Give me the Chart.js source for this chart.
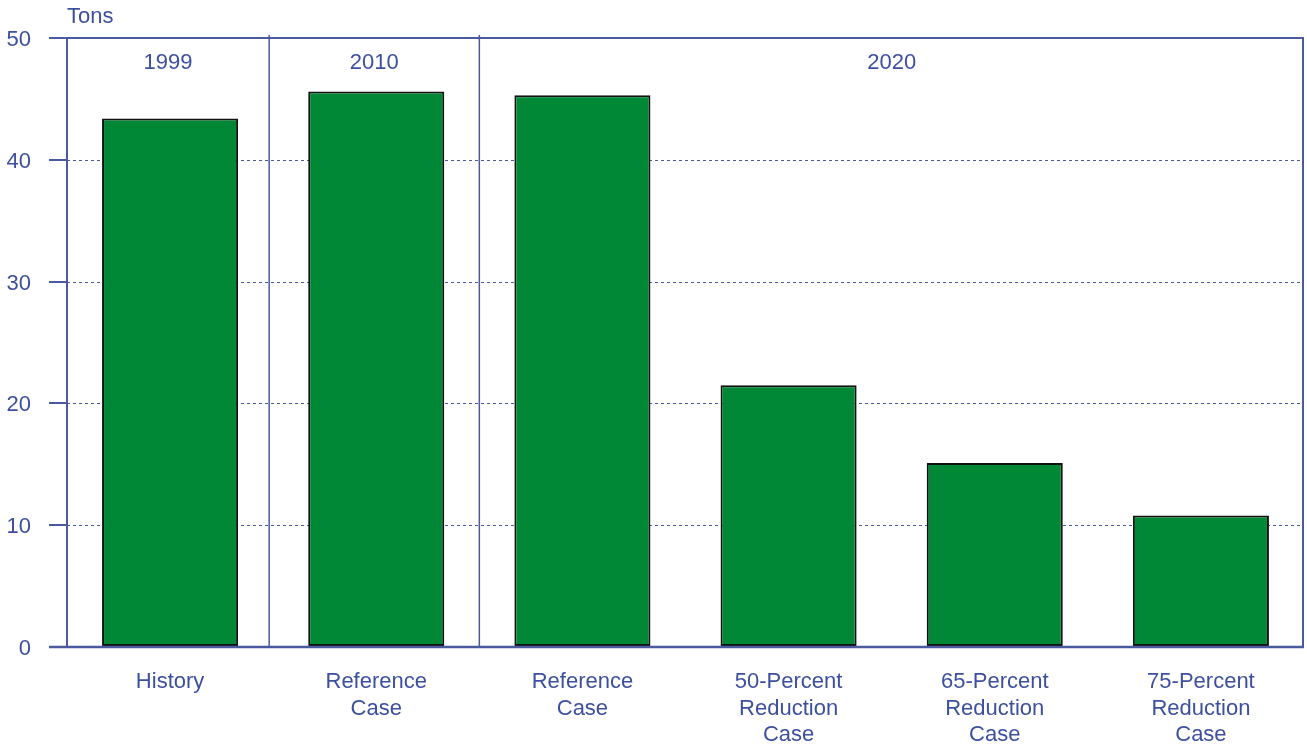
<!DOCTYPE html>
<html>
<head>
<meta charset="utf-8">
<script src="https://cdn.jsdelivr.net/npm/chart.js@4"></script>
<style>
html,body{margin:0;padding:0;background:#fff;}
#wrap{width:1307px;height:746px;position:relative;}
</style>
</head>
<body>
<div id="wrap"><canvas id="c" width="1307" height="746"></canvas></div>
<script>
const categories = [["History"],["Reference","Case"],["Reference","Case"],["50-Percent","Reduction","Case"],["65-Percent","Reduction","Case"],["75-Percent","Reduction","Case"]];
const values = [43.4, 45.6, 45.3, 21.5, 15.1, 10.8];
const yearGroups = [{label:"1999", from:0, to:0},{label:"2010", from:1, to:1},{label:"2020", from:2, to:5}];
const yTicks = [0,10,20,30,40,50];
const unitLabel = "Tons";

const TXT = '#3d4f9f';
const LINE = '#4a5a9f';
const FONT = "'Liberation Sans', Arial, sans-serif";
const SEP_SHIFT = [0, -4, 0];

const overlay = {
  id:'overlay',
  beforeDatasetsDraw(chart){
    const {ctx, chartArea:a, scales:{x,y}} = chart;
    ctx.save();
    ctx.strokeStyle = LINE; ctx.lineWidth = 1; ctx.setLineDash([3,3]);
    yTicks.forEach(v=>{
      if(v===0||v===50) return;
      const py = Math.round(y.getPixelForValue(v))+0.5;
      ctx.beginPath(); ctx.moveTo(a.left, py); ctx.lineTo(a.right, py); ctx.stroke();
    });
    ctx.restore();
  },
  afterDatasetsDraw(chart){
    const {ctx, chartArea:a, scales:{x,y}} = chart;
    ctx.save();
    ctx.strokeStyle = LINE; ctx.setLineDash([]);
    ctx.lineWidth = 2;
    const top = y.getPixelForValue(50);
    ctx.beginPath(); ctx.moveTo(a.left, top); ctx.lineTo(a.right, top); ctx.stroke();
    ctx.beginPath(); ctx.moveTo(a.right-1, top); ctx.lineTo(a.right-1, a.bottom); ctx.stroke();
    ctx.beginPath(); ctx.moveTo(a.left, top); ctx.lineTo(a.left, a.bottom); ctx.stroke();
    const half = (x.getPixelForValue(1)-x.getPixelForValue(0))/2;
    const sepX = yearGroups.map((g,i)=> i===0 ? a.left : x.getPixelForValue(g.from) - half + SEP_SHIFT[i]);
    sepX.push(a.right);
    ctx.lineWidth = 1.5;
    for(let i=1;i<yearGroups.length;i++){
      ctx.beginPath(); ctx.moveTo(sepX[i], top-3); ctx.lineTo(sepX[i], a.bottom); ctx.stroke();
    }
    ctx.lineWidth = 2.5;
    ctx.beginPath(); ctx.moveTo(a.left-18, a.bottom); ctx.lineTo(a.right, a.bottom); ctx.stroke();
    ctx.fillStyle = TXT; ctx.font = "22px " + FONT; ctx.textAlign='center'; ctx.textBaseline='middle';
    yearGroups.forEach((g,i)=>{
      ctx.fillText(g.label, (sepX[i]+sepX[i+1])/2, top+25);
    });
    ctx.textAlign='left';
    ctx.fillText(unitLabel, a.left, 17);
    ctx.restore();
  }
};

new Chart(document.getElementById('c'), {
  type:'bar',
  data:{labels:categories, datasets:[{data:values, backgroundColor:'#008837', borderColor:'#111', borderWidth:2, borderSkipped:false, barPercentage:0.66, categoryPercentage:1}]},
  options:{
    responsive:false, animation:false, devicePixelRatio:1,
    layout:{padding:{left:0, top:38, right:3, bottom:0}},
    plugins:{legend:{display:false}, tooltip:{enabled:false}},
    scales:{
      x:{
        grid:{display:false},
        border:{display:false},
        ticks:{color:TXT, font:{family:FONT, size:22}, padding:14, maxRotation:0, autoSkip:false},
        afterFit(s){ s.height = 99; }
      },
      y:{
        min:0, max:50,
        afterBuildTicks(s){ s.ticks = yTicks.map(v=>({value:v})); },
        grid:{drawOnChartArea:false, drawTicks:true, tickLength:18, color:LINE, lineWidth:2},
        border:{display:false},
        ticks:{color:TXT, font:{family:FONT, size:22}, padding:18, labelOffset:2},
        afterFit(s){ s.width = 67; }
      }
    }
  },
  plugins:[overlay]
});
</script>
</body>
</html>
